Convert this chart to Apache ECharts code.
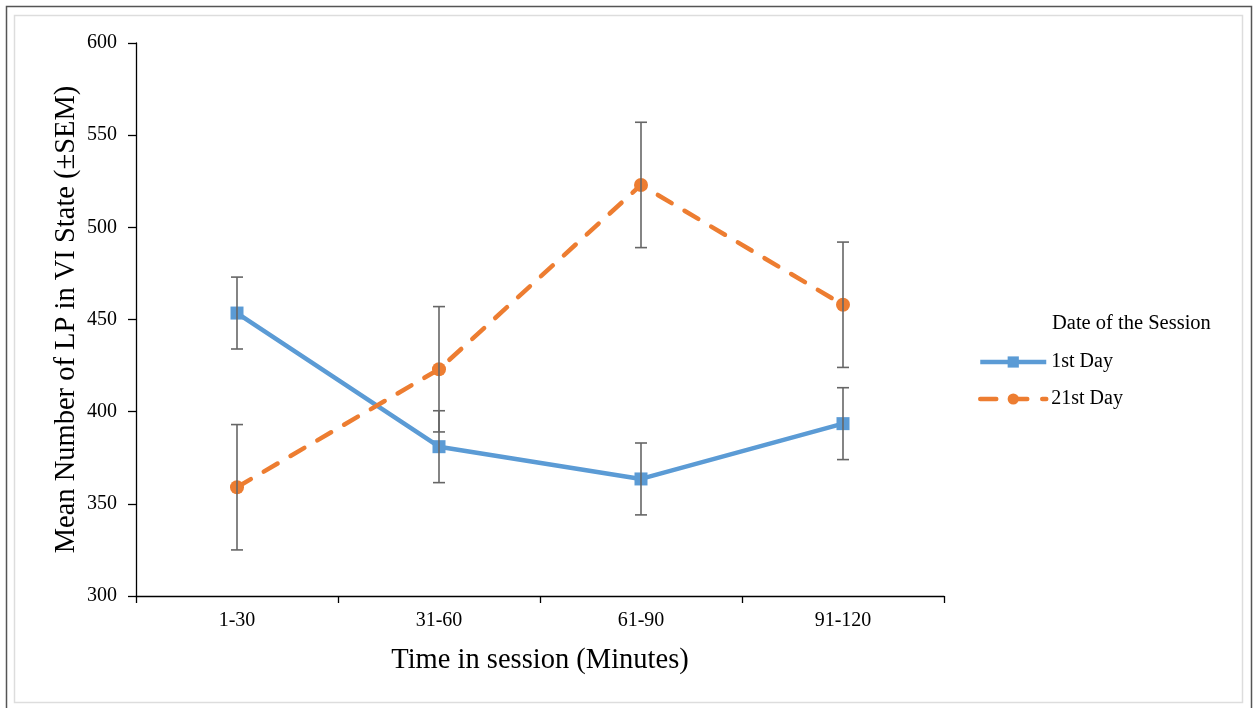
<!DOCTYPE html>
<html>
<head>
<meta charset="utf-8">
<script src="https://cdn.jsdelivr.net/npm/echarts@6/dist/echarts.min.js"></script>
<style>
  html, body { margin: 0; padding: 0; background: #fff; }
  #chart { width: 1258px; height: 708px; }
</style>
</head>
<body>
<div id="chart"></div>
<script>
// Time bins within the session
const categories = ['1-30', '31-60', '61-90', '91-120'];

// Mean lever presses in VI state and their SEM, per session day
const day1Mean = [453.5, 381, 363.5, 393.5];
const day1Sem = [19.5, 19.5, 19.5, 19.5];
const day21Mean = [359, 423, 523, 458];
const day21Sem = [34, 34, 34, 34];

const yTicks = { min: 300, max: 600, interval: 50 };

const serif = '"Liberation Serif", "Times New Roman", serif';
const blue = '#5B9BD5';
const orange = '#ED7D31';
const errColor = '#666666';

function errorData(means, sems) {
  return means.map((m, i) => [i, m - sems[i], m + sems[i]]);
}

function renderError(params, api) {
  const lo = api.coord([api.value(0), api.value(1)]);
  const hi = api.coord([api.value(0), api.value(2)]);
  const half = 6;
  const style = { stroke: errColor, lineWidth: 1.6, fill: null };
  return {
    type: 'group',
    children: [
      { type: 'line', shape: { x1: hi[0], y1: hi[1], x2: lo[0], y2: lo[1] }, style },
      { type: 'line', shape: { x1: hi[0] - half, y1: hi[1], x2: hi[0] + half, y2: hi[1] }, style },
      { type: 'line', shape: { x1: lo[0] - half, y1: lo[1], x2: lo[0] + half, y2: lo[1] }, style }
    ]
  };
}

const chart = echarts.init(document.getElementById('chart'), null, { renderer: 'canvas' });

chart.setOption({
  animation: false,
  backgroundColor: '#ffffff',
  textStyle: { fontFamily: serif, color: '#000' },
  grid: { left: 136, top: 43, width: 808, height: 553, containLabel: false },
  xAxis: {
    type: 'category',
    data: categories,
    boundaryGap: true,
    axisLine: { lineStyle: { color: '#000', width: 1.3 } },
    axisTick: { show: true, length: 7, inside: false, alignWithLabel: false, lineStyle: { color: '#000', width: 1.3 } },
    axisLabel: { color: '#000', fontFamily: serif, fontSize: 20, margin: 15 },
    name: 'Time in session (Minutes)',
    nameLocation: 'middle',
    nameGap: 50,
    nameMoveOverlap: false,
    nameTextStyle: { color: '#000', fontFamily: serif, fontSize: 28.5 }
  },
  yAxis: {
    type: 'value',
    min: yTicks.min,
    max: yTicks.max,
    interval: yTicks.interval,
    splitLine: { show: false },
    axisLine: { show: true, lineStyle: { color: '#000', width: 1.3 } },
    axisTick: { show: true, length: 8, inside: false, lineStyle: { color: '#000', width: 1.3 } },
    axisLabel: { color: '#000', fontFamily: serif, fontSize: 20, margin: 19 },
    name: 'Mean Number of LP in VI State (\u00B1SEM)',
    nameLocation: 'middle',
    nameGap: 55,
    nameRotate: 90,
    nameMoveOverlap: false,
    nameTextStyle: { color: '#000', fontFamily: serif, fontSize: 28.5 }
  },
  legend: {
    orient: 'vertical',
    left: 973,
    top: 347,
    padding: 5,
    itemWidth: 66,
    itemHeight: 14,
    itemGap: 17,
    lineStyle: { width: 4.5 },
    textStyle: { color: '#000', fontFamily: serif, fontSize: 20, padding: [0, 0, 0, 0] },
    data: ['1st Day', '21st Day']
  },
  graphic: [
    { type: 'rect', shape: { x: 6.5, y: 6.5, width: 1245, height: 710 }, style: { fill: null, stroke: '#555', lineWidth: 1.5 }, silent: true },
    { type: 'rect', shape: { x: 14.5, y: 15.5, width: 1228, height: 687 }, style: { fill: null, stroke: '#dddddd', lineWidth: 1.5 }, silent: true },
    { type: 'text', left: 1052, top: 313, style: { text: 'Date of the Session', font: '20.5px ' + serif, fill: '#000' } }
  ],
  series: [
    {
      name: '1st Day',
      type: 'line',
      data: day1Mean,
      z: 3,
      symbol: 'rect',
      symbolSize: 13,
      itemStyle: { color: blue },
      lineStyle: { color: blue, width: 4.5 }
    },
    {
      name: '21st Day',
      type: 'line',
      data: day21Mean,
      z: 3,
      symbol: 'circle',
      symbolSize: 14,
      itemStyle: { color: orange },
      lineStyle: { color: orange, width: 4.5, type: [16, 15], cap: 'round' }
    },
    {
      name: '1st Day SEM',
      type: 'custom',
      data: errorData(day1Mean, day1Sem),
      renderItem: renderError,
      encode: { x: 0, y: [1, 2] },
      z: 4
    },
    {
      name: '21st Day SEM',
      type: 'custom',
      data: errorData(day21Mean, day21Sem),
      renderItem: renderError,
      encode: { x: 0, y: [1, 2] },
      z: 4
    }
  ]
});
</script>
</body>
</html>
